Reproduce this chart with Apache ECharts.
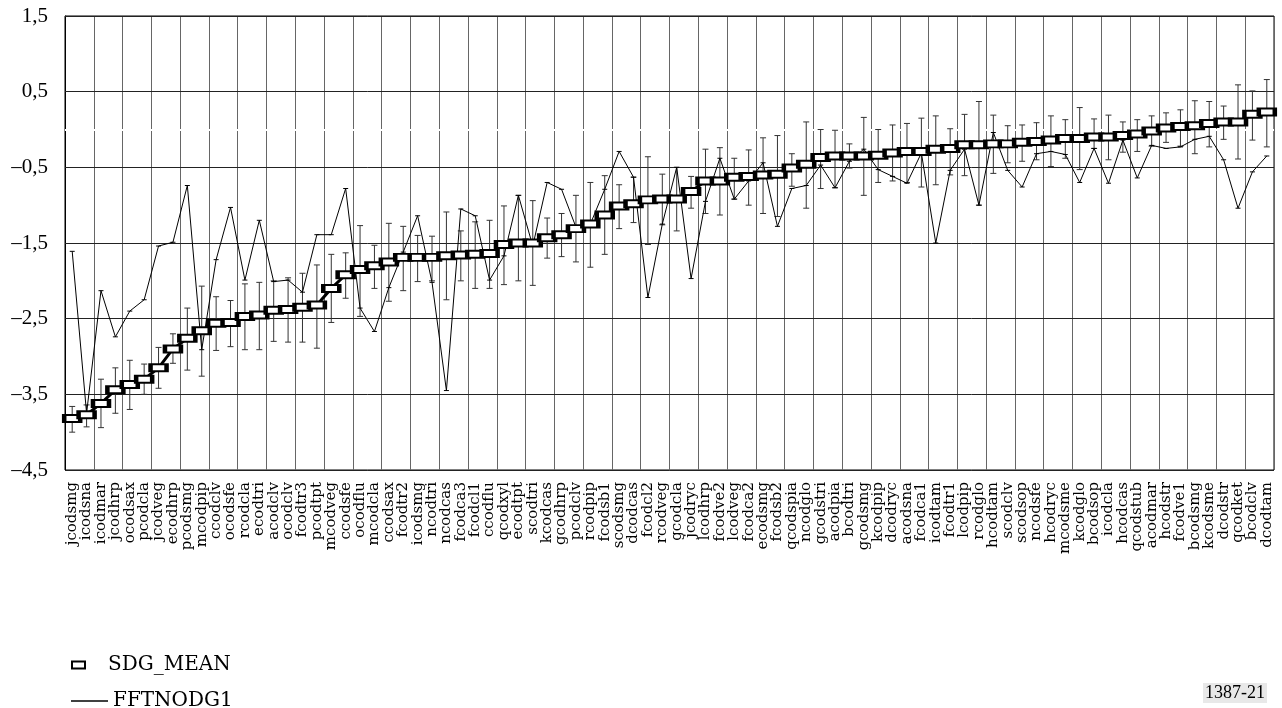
<!DOCTYPE html>
<html><head><meta charset="utf-8">
<script src="https://cdn.jsdelivr.net/npm/echarts@6/dist/echarts.min.js"></script>
<style>html,body{margin:0;padding:0;background:#fff}#c{width:1282px;height:708px}</style>
</head><body><div id="c"></div>
<script>
const categories = ["jcodsmg","icodsna","icodmar","jcodhrp","ocodsax","pcodcla","jcodveg","ecodhrp","pcodsmg","mcodpip","ccodclv","ocodsfe","rcodcla","ecodtri","acodclv","ocodclv","fcodtr3","pcodtpt","mcodveg","ccodsfe","ocodflu","mcodcla","ccodsax","fcodtr2","icodsmg","ncodtri","ncodcas","fcodca3","fcodcl1","ccodflu","qcodxyl","ecodtpt","scodtri","kcodcas","gcodhrp","pcodclv","rcodpip","fcodsb1","scodsmg","dcodcas","fcodcl2","rcodveg","gcodcla","jcodryc","lcodhrp","fcodve2","lcodveg","fcodca2","ecodsmg","fcodsb2","qcodspia","ncodglo","gcodstri","acodpia","bcodtri","gcodsmg","kcodpip","dcodryc","acodsna","fcodca1","icodtam","fcodtr1","lcodpip","rcodglo","hcodtam","scodclv","scodsop","ncodsfe","hcodryc","mcodsme","kcodglo","bcodsop","icodcla","hcodcas","qcodstub","acodmar","hcodstr","fcodve1","bcodsmg","kcodsme","dcodstr","qcodket","bcodclv","dcodtam"];
const sdgMean = [-3.82,-3.77,-3.62,-3.44,-3.37,-3.30,-3.15,-2.90,-2.76,-2.66,-2.56,-2.55,-2.47,-2.45,-2.39,-2.38,-2.35,-2.32,-2.10,-1.92,-1.85,-1.80,-1.75,-1.69,-1.69,-1.69,-1.67,-1.66,-1.65,-1.64,-1.52,-1.50,-1.50,-1.43,-1.39,-1.31,-1.25,-1.13,-1.01,-0.98,-0.93,-0.92,-0.92,-0.82,-0.68,-0.68,-0.63,-0.62,-0.60,-0.59,-0.51,-0.46,-0.37,-0.35,-0.35,-0.35,-0.34,-0.31,-0.29,-0.29,-0.26,-0.25,-0.20,-0.20,-0.19,-0.19,-0.17,-0.16,-0.14,-0.12,-0.12,-0.10,-0.10,-0.08,-0.06,-0.02,0.02,0.04,0.05,0.08,0.10,0.10,0.20,0.23];
const errHigh = [-3.66,-3.64,-3.30,-3.15,-3.05,-3.10,-2.88,-2.70,-2.36,-2.07,-2.21,-2.26,-2.04,-2.02,-2.00,-1.96,-1.90,-1.79,-1.65,-1.63,-1.27,-1.53,-1.24,-1.28,-1.40,-1.41,-1.09,-1.34,-1.22,-1.20,-1.01,-0.87,-0.94,-1.17,-1.11,-0.87,-0.70,-0.61,-0.73,-0.63,-0.36,-0.59,-0.50,-0.62,-0.26,-0.24,-0.38,-0.27,-0.11,-0.08,-0.32,0.10,0.00,-0.01,-0.19,0.16,0.00,0.06,0.08,0.15,0.18,0.01,0.20,0.37,0.19,0.05,0.06,0.09,0.18,0.13,0.29,0.14,0.19,0.10,0.13,0.18,0.22,0.26,0.38,0.37,0.31,0.59,0.51,0.66];
const errLow = [-4.00,-3.93,-3.94,-3.75,-3.70,-3.50,-3.42,-3.09,-3.18,-3.26,-2.92,-2.87,-2.91,-2.91,-2.80,-2.81,-2.81,-2.89,-2.55,-2.23,-2.47,-2.10,-2.27,-2.13,-2.01,-2.00,-2.25,-2.00,-2.10,-2.10,-2.05,-2.00,-2.06,-1.70,-1.68,-1.75,-1.82,-1.65,-1.31,-1.23,-1.52,-1.26,-1.34,-1.04,-1.11,-1.13,-0.92,-1.00,-1.11,-1.15,-0.75,-1.04,-0.78,-0.77,-0.51,-0.87,-0.70,-0.68,-0.70,-0.76,-0.73,-0.60,-0.61,-1.00,-0.58,-0.44,-0.42,-0.40,-0.49,-0.38,-0.53,-0.25,-0.40,-0.30,-0.29,-0.22,-0.17,-0.22,-0.32,-0.23,-0.13,-0.39,-0.14,-0.23];
const fftnodg1 = [-1.61,-3.75,-2.13,-2.74,-2.40,-2.25,-1.54,-1.49,-0.74,-2.91,-1.72,-1.03,-1.99,-1.20,-2.01,-1.99,-2.15,-1.39,-1.39,-0.78,-2.36,-2.67,-2.09,-1.62,-1.14,-2.02,-3.45,-1.05,-1.14,-1.99,-1.67,-0.87,-1.54,-0.70,-0.79,-1.29,-1.25,-0.79,-0.29,-0.63,-2.22,-1.25,-0.50,-1.97,-0.95,-0.38,-0.92,-0.68,-0.44,-1.28,-0.78,-0.74,-0.47,-0.77,-0.42,-0.26,-0.53,-0.62,-0.71,-0.31,-1.50,-0.54,-0.26,-1.00,-0.04,-0.54,-0.76,-0.32,-0.29,-0.33,-0.70,-0.25,-0.71,-0.14,-0.64,-0.21,-0.25,-0.23,-0.13,-0.09,-0.40,-1.04,-0.56,-0.35];
const yTicks = [-4.5,-3.5,-2.5,-1.5,-0.5,0.5,1.5];

const serif = '"Liberation Serif","DejaVu Serif",serif';
const serifWide = '"DejaVu Serif","Liberation Serif",serif';
const chart = echarts.init(document.getElementById('c'), null, {renderer:'canvas'});
const errData = categories.map((c,i)=>[i, errLow[i], errHigh[i]]);
chart.setOption({
  animation:false,
  backgroundColor:'#fff',
  grid:{left:65,right:8,top:16,bottom:238,show:true,borderColor:'#000',borderWidth:1},
  legend:[
    {data:[{name:'SDG_MEAN',icon:'rect'}],left:66,top:650,orient:'vertical',itemWidth:13,itemHeight:7,itemGap:10,
     textStyle:{fontFamily:serifWide,fontSize:20,color:'#000',padding:[0,0,0,18]},
     itemStyle:{color:'#fff',borderColor:'#000',borderWidth:2}},
    {data:[{name:'FFTNODG1',icon:'path://M0,0L40,0L40,1.4L0,1.4Z'}],left:66,top:686,orient:'vertical',itemWidth:37,itemHeight:2,
     textStyle:{fontFamily:serifWide,fontSize:20,color:'#000',padding:[0,0,0,0]},
     itemStyle:{color:'#000',borderWidth:0}}
  ],
  xAxis:{type:'category',data:categories,boundaryGap:true,position:'bottom',
    axisLine:{show:false,onZero:false},
    axisTick:{show:false},
    axisLabel:{interval:0,rotate:90,fontFamily:serifWide,fontSize:15,color:'#000',margin:12},
    splitLine:{show:true,interval:0,lineStyle:{color:['#666','rgba(0,0,0,0)'],width:1}}},
  yAxis:{type:'value',min:-4.5,max:1.5,interval:0.5,
    axisLine:{show:true,onZero:false,lineStyle:{color:'#000'}},axisTick:{show:false},
    axisLabel:{fontFamily:serif,fontSize:21,color:'#000',margin:17,
      formatter:v=>{const t=yTicks.find(x=>Math.abs(x-v)<1e-9);return t===undefined?'':(t<0?'\u2013':'')+Math.abs(t).toFixed(1).replace('.',',');}},
    splitLine:{show:false}},
  series:[
    {name:'cover',type:'line',data:[],z:1,silent:true,showSymbol:false,
     markLine:{silent:true,z:1,symbol:['none','none'],label:{show:false},
       lineStyle:{color:'#fff',width:2,type:'solid'},data:[{yAxis:0}]}},
    {name:'err',type:'custom',data:errData,z:2,silent:true,
     renderItem:(params,api)=>{
       const x=api.coord([api.value(0),api.value(1)])[0];
       const yl=api.coord([api.value(0),api.value(1)])[1];
       const yh=api.coord([api.value(0),api.value(2)])[1];
       const st={stroke:'#333',lineWidth:1};
       return {type:'group',children:[
         {type:'line',shape:{x1:x,y1:yl,x2:x,y2:yh},style:st},
         {type:'line',shape:{x1:x-3,y1:yl,x2:x+3,y2:yl},style:st},
         {type:'line',shape:{x1:x-3,y1:yh,x2:x+3,y2:yh},style:st}
       ]};
     },
     markLine:{silent:true,z:1,symbol:['none','none'],label:{show:false},
       lineStyle:{color:'#222',width:1,type:'solid'},
       data:yTicks.map(v=>({yAxis:v}))}},
    {name:'FFTNODG1',type:'line',data:fftnodg1,z:3,symbol:'rect',symbolSize:[5,1],
     lineStyle:{color:'#000',width:1},itemStyle:{color:'#000'}},
    {name:'SDG_MEAN',type:'line',data:sdgMean,z:5,symbol:'rect',symbolSize:[16,7],
     lineStyle:{color:'#000',width:3},itemStyle:{color:'#fff',borderColor:'#000',borderWidth:3}}
  ],
  graphic:[{type:'text',left:1203,top:683,style:{text:'1387-21',fontFamily:serif,fontSize:18,fill:'#000',
     backgroundColor:'#e8e8e8',padding:[1,2]}}]
});
</script></body></html>
